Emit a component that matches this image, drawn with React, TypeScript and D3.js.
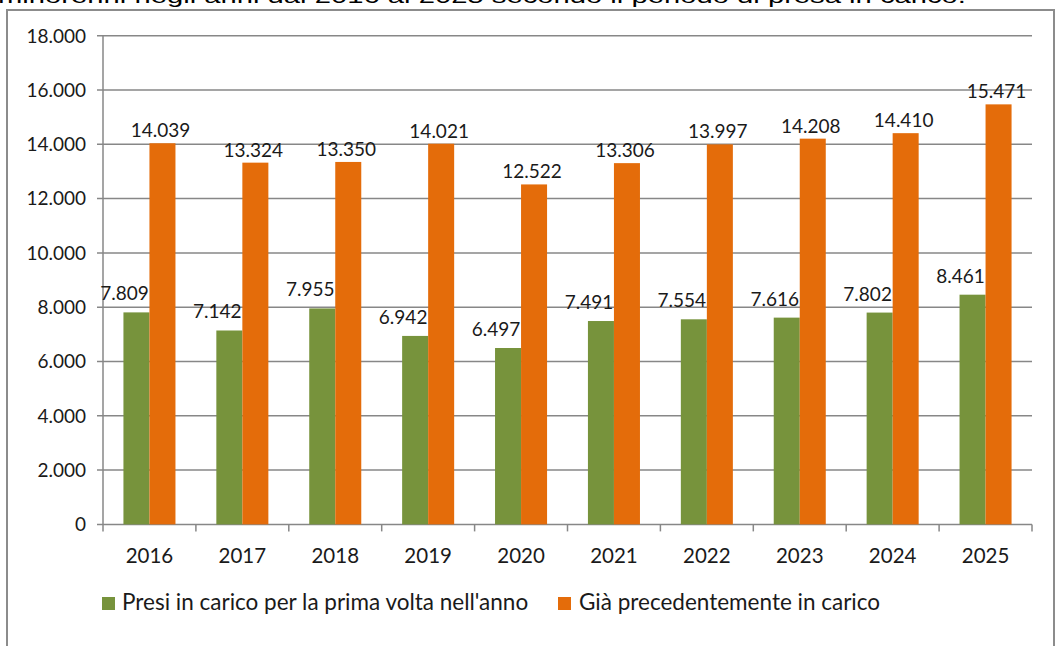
import React from 'react';
import * as d3 from 'd3';

// chart data
const years = ['2016', '2017', '2018', '2019', '2020', '2021', '2022', '2023', '2024', '2025'];
const firstTime = [7809, 7142, 7955, 6942, 6497, 7491, 7554, 7616, 7802, 8461];
const alreadyInCharge = [14039, 13324, 13350, 14021, 12522, 13306, 13997, 14208, 14410, 15471];
const yTicks = [0, 2000, 4000, 6000, 8000, 10000, 12000, 14000, 16000, 18000];
const seriesNames = ['Presi in carico per la prima volta nell\'anno', 'Già precedentemente in carico'];
const titleText = 'minorenni negli anni dal 2016 al 2025 secondo il periodo di presa in carico.';

const colors = { green: '#77933c', orange: '#e46c0a', grid: '#878787', text: '#1a1a1a', frame: '#8c8c8c' };

const itFormat = d3.formatLocale({ decimal: ',', thousands: '.', grouping: [3], currency: ['', '€'] }).format(',');

const App = () => {
  const W = 1060;
  const H = 646;
  const plot = { left: 103, right: 1032, top: 35.7, bottom: 524.4 };

  const x0 = d3.scaleBand<string>()
    .domain(years)
    .range([plot.left, plot.right])
    .paddingInner(0.44)
    .paddingOuter(0.22);

  const x1 = d3.scaleBand<string>()
    .domain(['a', 'b'])
    .range([0, x0.bandwidth()]);

  const y = d3.scaleLinear().domain([0, 18000]).range([plot.bottom, plot.top]);

  const step = x0.step();
  const boundaries = d3.range(years.length + 1).map(i => plot.left + i * step);

  const font = 'Lato, "Open Sans", sans-serif';

  return (
    <div style={{ position: 'absolute', left: 0, top: 0, width: W, height: H, background: '#fff' }}>
      <svg width={W} height={H} style={{ display: 'block' }}>
        <rect x={0} y={0} width={W} height={H} fill="#fff" />
        {/* title of the page above, cut by the screenshot */}
        <text x={-2} y={3} fontFamily='"Liberation Sans", Arial, sans-serif' fontSize={21} fill="#000"
          textLength={968} lengthAdjust="spacingAndGlyphs">{titleText}</text>

        {/* chart frame */}
        <rect x={7} y={10} width={1047} height={H + 10} fill="none" stroke={colors.frame} strokeWidth={2} />

        {/* gridlines + y ticks */}
        {yTicks.map(t => (
          <g key={t}>
            <line x1={plot.left - 6} x2={plot.right} y1={y(t)} y2={y(t)} stroke={colors.grid} strokeWidth={1.5} />
            <text x={86} y={y(t)} dy="0.36em" textAnchor="end" fontFamily={font} fontSize={19} fill={colors.text}>
              {itFormat(t)}
            </text>
          </g>
        ))}

        {/* y axis line */}
        <line x1={plot.left} x2={plot.left} y1={plot.top} y2={plot.bottom} stroke={colors.grid} strokeWidth={1.5} />

        {/* x tick marks */}
        {boundaries.map((bx, i) => (
          <line key={i} x1={bx} x2={bx} y1={plot.bottom} y2={plot.bottom + 7} stroke={colors.grid} strokeWidth={1.5} />
        ))}

        {/* bars */}
        {years.map((yr, i) => {
          const gx = x0(yr) ?? 0;
          const gX = gx + (x1('a') ?? 0);
          const oX = gx + (x1('b') ?? 0);
          const bw = x1.bandwidth();
          return (
            <g key={yr}>
              <rect x={gX} y={y(firstTime[i])} width={bw} height={plot.bottom - y(firstTime[i])} fill={colors.green} />
              <rect x={oX} y={y(alreadyInCharge[i])} width={bw} height={plot.bottom - y(alreadyInCharge[i])} fill={colors.orange} />
            </g>
          );
        })}

        {/* data labels */}
        {years.map((yr, i) => {
          const gx = x0(yr) ?? 0;
          const bw = x1.bandwidth();
          const gCenter = gx + (x1('a') ?? 0) + bw / 2;
          const oCenter = gx + (x1('b') ?? 0) + bw / 2;
          return (
            <g key={yr} fontFamily={font} fontSize={19} fill={colors.text} textAnchor="middle">
              <text x={gCenter - 12} y={y(firstTime[i]) - 12}>{itFormat(firstTime[i])}</text>
              <text x={oCenter - 2} y={y(alreadyInCharge[i]) - 6}>{itFormat(alreadyInCharge[i])}</text>
            </g>
          );
        })}

        {/* x labels */}
        {years.map(yr => (
          <text key={yr} x={(x0(yr) ?? 0) + x0.bandwidth() / 2} y={563} textAnchor="middle"
            fontFamily={font} fontSize={20.5} fill={colors.text}>{yr}</text>
        ))}

        {/* legend */}
        <g fontFamily={font} fontSize={22.5} fill={colors.text}>
          <rect x={102} y={597} width={13} height={13} fill={colors.green} />
          <text x={122} y={610}>{seriesNames[0]}</text>
          <rect x={558} y={597} width={13} height={13} fill={colors.orange} />
          <text x={579} y={610}>{seriesNames[1]}</text>
        </g>
      </svg>
    </div>
  );
};

export default App;
